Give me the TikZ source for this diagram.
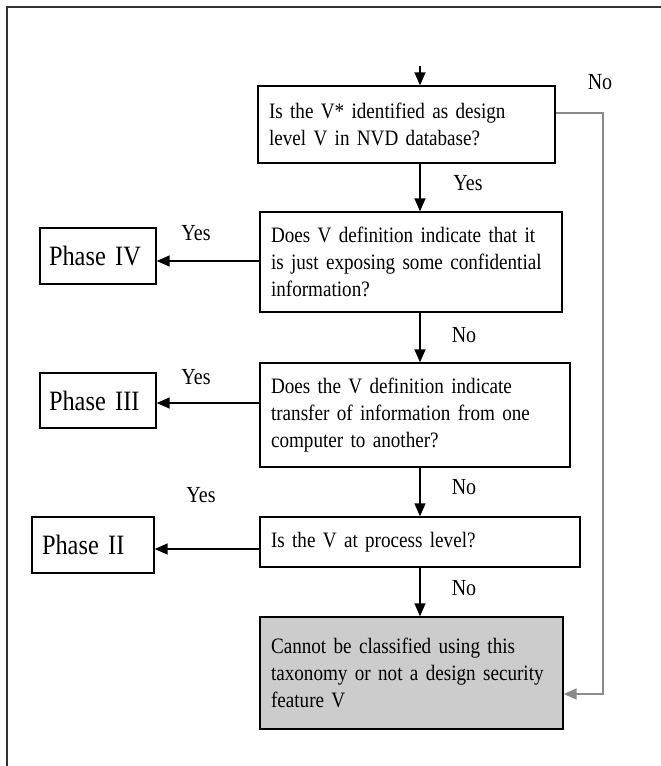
\documentclass[tikz,border=0pt]{standalone}
\usepackage{fontspec}
\setmainfont{Liberation Serif}[FakeStretch=0.87, WordSpace=0.6]
\usetikzlibrary{arrows.meta}
\hyphenpenalty=10000
\exhyphenpenalty=10000
\definecolor{linegray}{HTML}{8A8A8A}
\definecolor{boxfill}{HTML}{CCCCCC}
\tikzset{
  qbox/.style={draw=black, line width=1.4pt, inner xsep=11pt, inner ysep=0pt,
    align=left, font=\fontsize{22}{27}\selectfont},
  phasebox/.style={draw=black, line width=1.4pt, inner xsep=9pt, inner ysep=0pt,
    align=left, font=\fontsize{28}{32}\selectfont},
  arr/.style={draw=black, line width=1.5pt, -{Triangle[length=13pt,width=11pt]}},
  grayarr/.style={draw=linegray, line width=2pt, -{Triangle[length=13pt,width=11pt]}},
  lbl/.style={font=\fontsize{23}{27}\selectfont, inner sep=0pt},
}
\begin{document}
\begin{tikzpicture}[x=1pt, y=-1pt]
\useasboundingbox (0,0) rectangle (661,766);
% outer frame (open to the right and bottom)
\draw[line width=1.5pt, black!80] (7,780) -- (7,7) -- (680,7);

% question boxes
\node[qbox, text width=275pt, minimum height=77pt] (q1) at (406.5,124.5)
  {Is the V* identified as design\\level V in NVD database?};
\node[qbox, text width=280pt, minimum height=100pt] (q2) at (411,262)
  {Does V definition indicate that it\\is just exposing some confidential\\information?};
\node[qbox, text width=288pt, minimum height=104pt] (q3) at (415,415)
  {Does the V definition indicate\\transfer of information from one\\computer to another?};
\node[qbox, text width=298pt, minimum height=50pt] (q4) at (420,542)
  {Is the V at process level?};
\node[qbox, fill=boxfill, text width=281pt, minimum height=112pt] (q5) at (411.5,673)
  {Cannot be classified using this\\taxonomy or not a design security\\feature V\\[6pt]};

% phase boxes
\node[phasebox, text width=98pt, minimum height=56pt] (p4) at (98,256) {Phase IV};
\node[phasebox, text width=98pt, minimum height=55pt] (p3) at (98,400.5) {Phase III};
\node[phasebox, inner xsep=10pt, text width=102pt, minimum height=56pt] (p2) at (93,545) {Phase II};

% vertical spine and free ends
\coordinate (spine) at (420,0);
\coordinate (entry) at (420,66);
\coordinate (nocorner1) at (603,0);

% main flow
\draw[arr] (entry) -- (q1.north -| spine);
\draw[arr] (q1.south -| spine) -- (q2.north -| spine);
\draw[arr] (q2.south -| spine) -- (q3.north -| spine);
\draw[arr] (q3.south -| spine) -- (q4.north -| spine);
\draw[arr] (q4.south -| spine) -- (q5.north -| spine);

% yes branches
\draw[arr] ([yshift=1pt]q2.west) -- ([yshift=1pt]q2.west -| p4.east);
\draw[arr] ([yshift=12pt]q3.west) -- ([yshift=12pt]q3.west -| p3.east);
\draw[arr] ([yshift=-7pt]q4.west) -- ([yshift=-7pt]q4.west -| p2.east);

% no branch from the first question
\draw[grayarr] ([yshift=11.5pt]q1.east) -- ([yshift=11.5pt]q1.east -| nocorner1)
  -- ([yshift=-21pt]q5.east -| nocorner1) -- ([yshift=-21pt]q5.east);

% labels
\node[lbl] (lno1) at (600,82) {No};
\node[lbl] (lyes1) at (468,183) {Yes};
\node[lbl] (lyes2) at (196,233) {Yes};
\node[lbl] (lno2) at (464,335) {No};
\node[lbl] (lyes3) at (196,377) {Yes};
\node[lbl] (lno3) at (464,487) {No};
\node[lbl] (lyes4) at (201,495) {Yes};
\node[lbl] (lno4) at (464,588) {No};
\end{tikzpicture}
\end{document}
